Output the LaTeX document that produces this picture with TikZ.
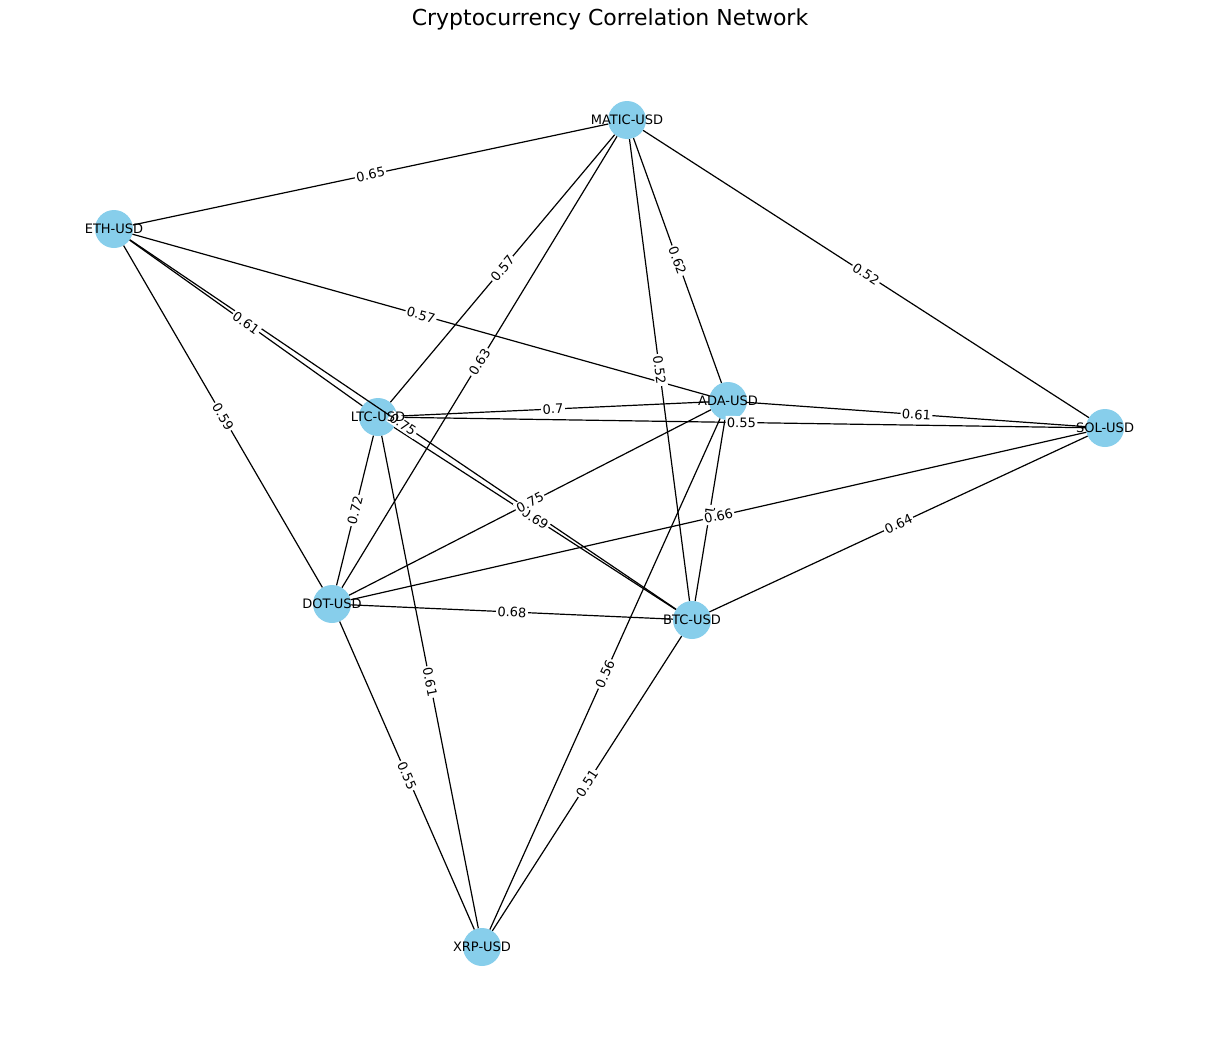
\documentclass[tikz,border=0pt]{standalone}
\usepackage{fontspec}
\setmainfont{DejaVu Sans}
\definecolor{sky}{RGB}{135,206,235}
\begin{document}
\begin{tikzpicture}[x=1pt,y=-1pt,
  dot/.style={circle,fill=sky,minimum size=38pt,inner sep=0pt},
  nm/.style={font=\fontsize{13}{15}\selectfont,inner sep=0pt},
  el/.style={midway,sloped,fill=white,inner sep=1.5pt,font=\fontsize{13}{15}\selectfont},
  ed/.style={line width=1.2pt}]
\useasboundingbox (0,0) rectangle (1220,1044);
\node[font=\fontsize{22}{26}\selectfont] (title) at (610,19) {Cryptocurrency Correlation Network};
\node[dot] (matic) at (627,120) {};
\node[dot] (eth) at (114,229) {};
\node[dot] (ltc) at (378,417) {};
\node[dot] (ada) at (728,401) {};
\node[dot] (sol) at (1105,428) {};
\node[dot] (dot) at (332,604) {};
\node[dot] (btc) at (692,620) {};
\node[dot] (xrp) at (482,947) {};
\def\edgelist{eth/matic/0.65,matic/ltc/0.57,matic/dot/0.63,matic/btc/0.52,matic/ada/0.62,matic/sol/0.52,
  eth/ada/0.57,eth/ltc/0.61,eth/btc/0.75,eth/dot/0.59,ltc/ada/0.7,ltc/sol/0.55,ada/sol/0.61,ltc/dot/0.72,
  ltc/xrp/0.61,ada/btc/1,ada/xrp/0.56,dot/sol/0.66,sol/btc/0.64,dot/btc/0.68,dot/xrp/0.55,btc/xrp/0.51,
  ltc/btc/0.69,dot/ada/0.75}
\foreach \a/\b/\w in \edgelist
  \draw[ed] (\a) -- (\b);
\foreach \a/\b/\w in \edgelist
  \path (\a) -- (\b) node[el] {\w};
\foreach \n/\t in {matic/MATIC-USD,eth/ETH-USD,ltc/LTC-USD,ada/ADA-USD,sol/SOL-USD,dot/DOT-USD,btc/BTC-USD,xrp/XRP-USD}
  \node[nm] at (\n) {\t};
\end{tikzpicture}
\end{document}
